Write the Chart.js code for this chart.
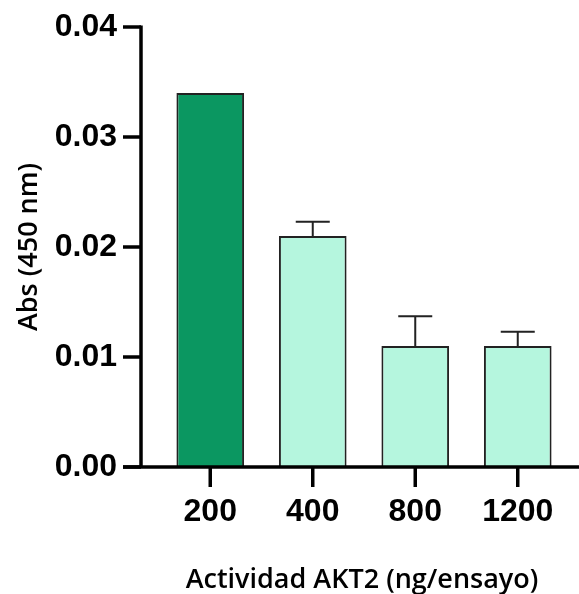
<!DOCTYPE html>
<html>
<head>
    <meta charset='utf-8'>
    <title>Actividad AKT2</title>
    <script src="https://cdn.jsdelivr.net/npm/chart.js@4.4.0/dist/chart.umd.min.js"></script>
    <style>
        body { margin: 0; background: #fff; }
    </style>
</head>
<body>
    <canvas id="grafico" width="579" height="594"></canvas>

<script>
    // datos
    var categorias = ['200', '400', '800', '1200'];
    var absorbancia = [0.034, 0.021, 0.011, 0.011];
    var errorSup = [0, 0.0013, 0.0027, 0.0013];
    var ticksY = [0, 0.01, 0.02, 0.03, 0.04];
    var tituloX = 'Actividad AKT2 (ng/ensayo)';
    var tituloY = 'Abs (450 nm)';

    var colores = ['#0b9761', '#b5f6de', '#b5f6de', '#b5f6de'];

    // ejes dibujados a mano (estilo prism)
    var ejes = {
        id: 'ejes',
        afterDatasetsDraw: function (chart) {
            var ctx = chart.ctx;
            var a = chart.chartArea;
            var sx = chart.scales.x, sy = chart.scales.y;
            var ejeX = a.left - 18;
            var y0 = sy.getPixelForValue(0);
            ctx.save();

            // barras de error
            var meta = chart.getDatasetMeta(0);
            ctx.strokeStyle = '#222';
            ctx.lineWidth = 2;
            meta.data.forEach(function (bar, i) {
                if (!errorSup[i]) return;
                var yTop = sy.getPixelForValue(absorbancia[i] + errorSup[i]);
                ctx.beginPath();
                ctx.moveTo(bar.x, bar.y);
                ctx.lineTo(bar.x, yTop);
                ctx.moveTo(bar.x - 17, yTop);
                ctx.lineTo(bar.x + 17, yTop);
                ctx.stroke();
            });

            ctx.strokeStyle = '#000';
            ctx.lineWidth = 3.5;
            ctx.lineCap = 'butt';
            // eje y
            ctx.beginPath();
            ctx.moveTo(ejeX, sy.getPixelForValue(0.04) - 1.5);
            ctx.lineTo(ejeX, y0);
            ctx.stroke();
            ticksY.forEach(function (v) {
                var y = sy.getPixelForValue(v);
                ctx.beginPath();
                ctx.moveTo(ejeX - 18, y);
                ctx.lineTo(ejeX, y);
                ctx.stroke();
            });
            // eje x
            ctx.beginPath();
            ctx.moveTo(ejeX - 18, y0);
            ctx.lineTo(chart.width, y0);
            ctx.stroke();
            categorias.forEach(function (c, i) {
                var x = sx.getPixelForValue(i);
                ctx.beginPath();
                ctx.moveTo(x, y0);
                ctx.lineTo(x, y0 + 20);
                ctx.stroke();
            });

            // etiquetas
            ctx.fillStyle = '#000';
            ctx.font = 'bold 32px "Liberation Sans", Arial, sans-serif';
            ctx.textAlign = 'right';
            ctx.textBaseline = 'middle';
            ticksY.forEach(function (v) {
                ctx.fillText(v.toFixed(2), ejeX - 24, sy.getPixelForValue(v));
            });
            ctx.textAlign = 'center';
            categorias.forEach(function (c, i) {
                ctx.fillText(c, sx.getPixelForValue(i), y0 + 45);
            });

            // titulos
            ctx.font = '600 27px "Open Sans", sans-serif';
            ctx.fillText(tituloX, 362, 580);
            ctx.translate(29, 247);
            ctx.rotate(-Math.PI / 2);
            ctx.fillText(tituloY, 0, 0);
            ctx.restore();
        }
    };

    var ctx = document.getElementById('grafico').getContext('2d');
    var miGrafico = new Chart(ctx, {
        type: 'bar',
        data: {
            labels: categorias,
            datasets: [{
                data: absorbancia,
                backgroundColor: colores,
                borderColor: '#222',
                borderWidth: 2,
                categoryPercentage: 1,
                barPercentage: 0.66
            }]
        },
        options: {
            responsive: false,
            animation: false,
            layout: {
                padding: { left: 159, right: 10, top: 27, bottom: 127 }
            },
            plugins: {
                legend: { display: false },
                tooltip: { enabled: false }
            },
            scales: {
                x: { display: false },
                y: { display: false, min: 0, max: 0.04 }
            }
        },
        plugins: [ejes]
    });
</script>
</body>
</html>
